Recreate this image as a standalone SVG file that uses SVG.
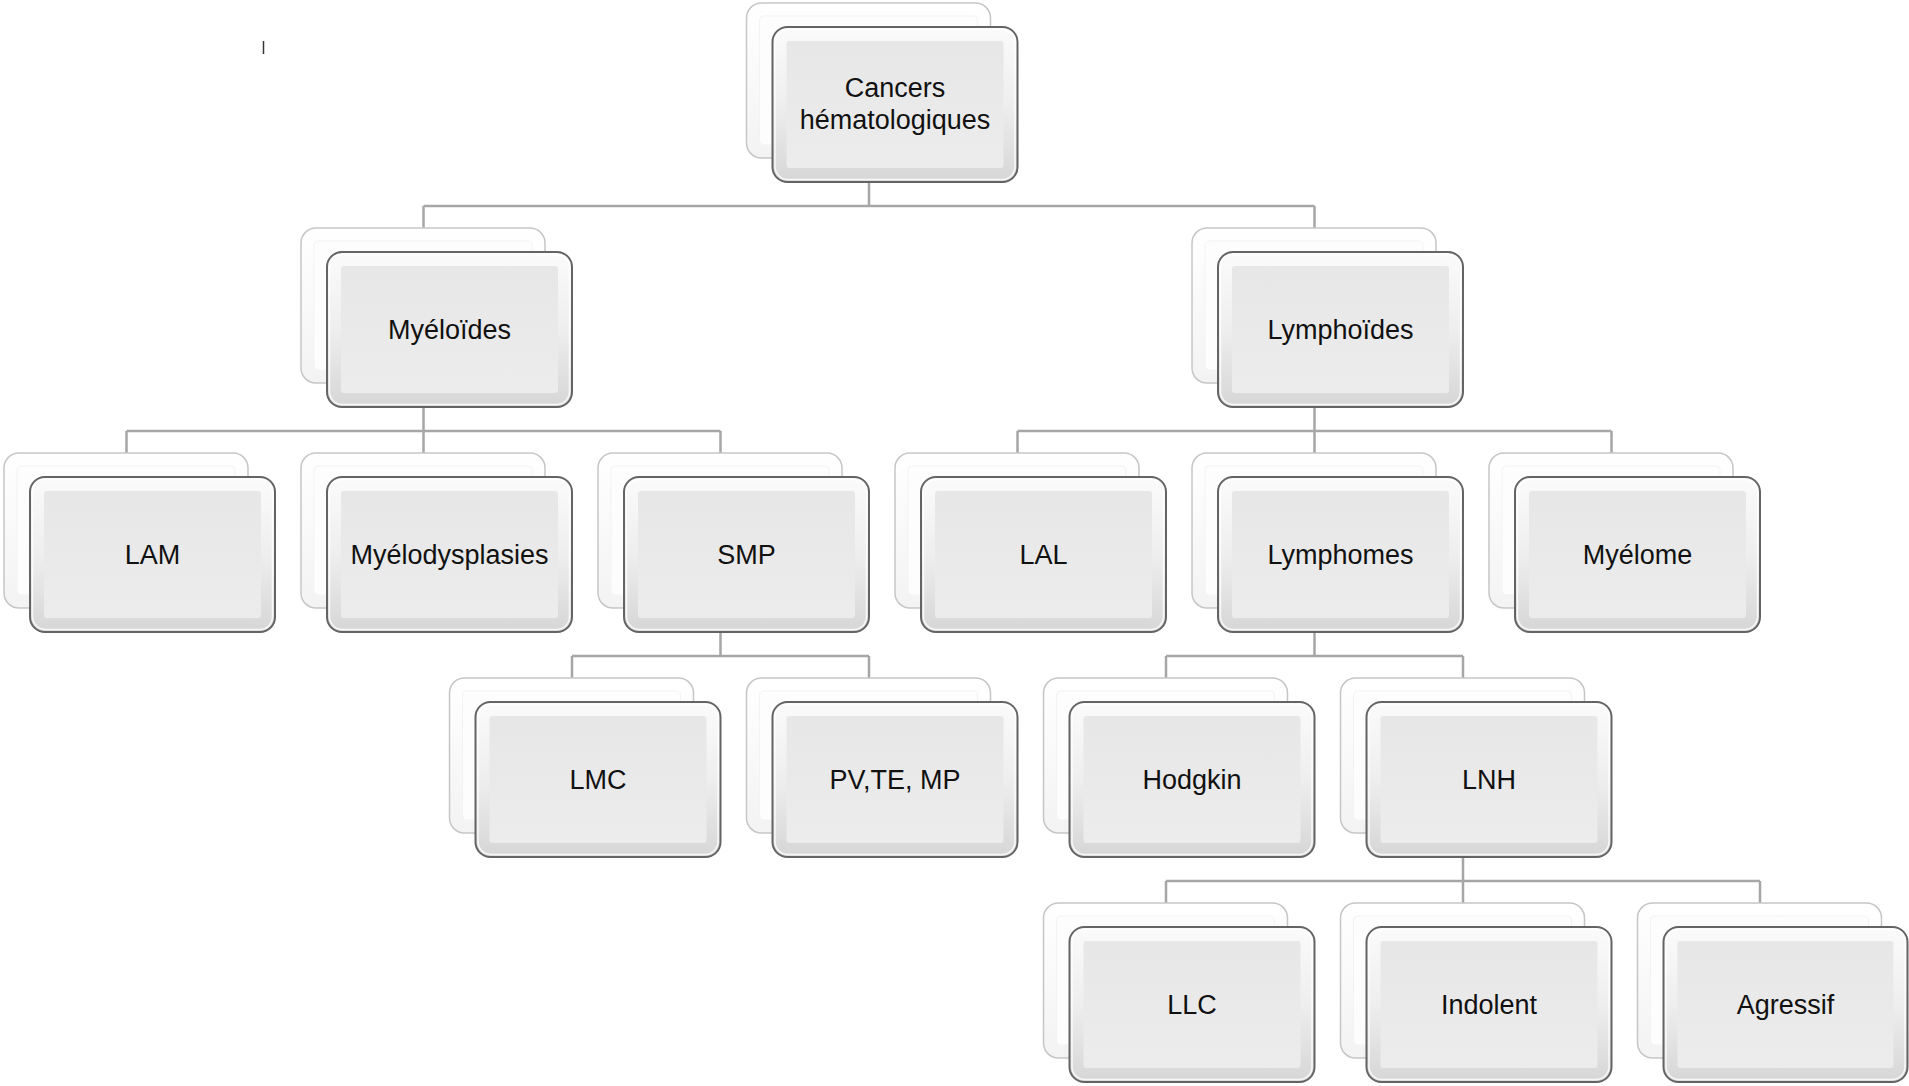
<svg xmlns="http://www.w3.org/2000/svg" width="1909" height="1086" viewBox="0 0 1909 1086">
<defs>
<linearGradient id="frameG" x1="0" y1="0" x2="0" y2="1">
<stop offset="0" stop-color="#fbfbfb"/>
<stop offset="0.5" stop-color="#eeeeee"/>
<stop offset="1" stop-color="#d6d6d6"/>
</linearGradient>
<linearGradient id="backG" x1="0" y1="0" x2="0" y2="1">
<stop offset="0" stop-color="#ffffff"/>
<stop offset="1" stop-color="#f3f3f3"/>
</linearGradient>
<linearGradient id="innerG" x1="0" y1="0" x2="0" y2="1">
<stop offset="0" stop-color="#e7e7e7"/>
<stop offset="1" stop-color="#ececec"/>
</linearGradient>
</defs>
<style>
.back{fill:url(#backG);stroke:#c6c6c6;stroke-width:1.5}
.backin{fill:#fdfdfd;stroke:#f3f3f3;stroke-width:1}
.front{fill:url(#frameG);stroke:#646464;stroke-width:2}
.hl{fill:none;stroke:#ffffff;stroke-width:1.5;stroke-opacity:0.8}
.inner{fill:url(#innerG);stroke:none}
.lbl{font-family:"Liberation Sans",Arial,sans-serif;font-size:27px;fill:#111111;text-anchor:middle}
.conn{fill:none;stroke:#a6a6a6;stroke-width:2.5}
</style>
<rect width="1909" height="1086" fill="#ffffff"/>
<line x1="263.5" y1="41" x2="263.5" y2="54" stroke="#333333" stroke-width="1.5"/>
<g id="connectors">
<path class="conn" d="M869 182V206M423.5 206H1314.5M423.5 206V228M1314.5 206V228"/>
<path class="conn" d="M423.5 407V431M126.5 431H720.5M126.5 431V453M423.5 431V453M720.5 431V453"/>
<path class="conn" d="M1314.5 407V431M1017.5 431H1611.5M1017.5 431V453M1314.5 431V453M1611.5 431V453"/>
<path class="conn" d="M720.5 632V656M572 656H869M572 656V678M869 656V678"/>
<path class="conn" d="M1314.5 632V656M1166 656H1463M1166 656V678M1463 656V678"/>
<path class="conn" d="M1463 857V881M1166 881H1760M1166 881V903M1463 881V903M1760 881V903"/>
</g>
<g id="node-cancers" transform="translate(772.5,27)">
<rect class="back" x="-26" y="-24" width="244" height="155" rx="15"/><rect class="backin" x="-13" y="-11" width="218" height="129" rx="4"/>
<rect class="front" x="0" y="0" width="245" height="155" rx="15"/><rect class="hl" x="2.5" y="2.5" width="240" height="150" rx="13"/><rect class="inner" x="14" y="14" width="217" height="127" rx="3"/>
<text class="lbl" x="122.5" y="70">Cancers</text><text class="lbl" x="122.5" y="102">hématologiques</text>
</g>
<g id="node-myeloides" transform="translate(327,252)">
<rect class="back" x="-26" y="-24" width="244" height="155" rx="15"/><rect class="backin" x="-13" y="-11" width="218" height="129" rx="4"/>
<rect class="front" x="0" y="0" width="245" height="155" rx="15"/><rect class="hl" x="2.5" y="2.5" width="240" height="150" rx="13"/><rect class="inner" x="14" y="14" width="217" height="127" rx="3"/>
<text class="lbl" x="122.5" y="87">Myéloïdes</text>
</g>
<g id="node-lymphoides" transform="translate(1218,252)">
<rect class="back" x="-26" y="-24" width="244" height="155" rx="15"/><rect class="backin" x="-13" y="-11" width="218" height="129" rx="4"/>
<rect class="front" x="0" y="0" width="245" height="155" rx="15"/><rect class="hl" x="2.5" y="2.5" width="240" height="150" rx="13"/><rect class="inner" x="14" y="14" width="217" height="127" rx="3"/>
<text class="lbl" x="122.5" y="87">Lymphoïdes</text>
</g>
<g id="node-lam" transform="translate(30,477)">
<rect class="back" x="-26" y="-24" width="244" height="155" rx="15"/><rect class="backin" x="-13" y="-11" width="218" height="129" rx="4"/>
<rect class="front" x="0" y="0" width="245" height="155" rx="15"/><rect class="hl" x="2.5" y="2.5" width="240" height="150" rx="13"/><rect class="inner" x="14" y="14" width="217" height="127" rx="3"/>
<text class="lbl" x="122.5" y="87">LAM</text>
</g>
<g id="node-myelodysplasies" transform="translate(327,477)">
<rect class="back" x="-26" y="-24" width="244" height="155" rx="15"/><rect class="backin" x="-13" y="-11" width="218" height="129" rx="4"/>
<rect class="front" x="0" y="0" width="245" height="155" rx="15"/><rect class="hl" x="2.5" y="2.5" width="240" height="150" rx="13"/><rect class="inner" x="14" y="14" width="217" height="127" rx="3"/>
<text class="lbl" x="122.5" y="87">Myélodysplasies</text>
</g>
<g id="node-smp" transform="translate(624,477)">
<rect class="back" x="-26" y="-24" width="244" height="155" rx="15"/><rect class="backin" x="-13" y="-11" width="218" height="129" rx="4"/>
<rect class="front" x="0" y="0" width="245" height="155" rx="15"/><rect class="hl" x="2.5" y="2.5" width="240" height="150" rx="13"/><rect class="inner" x="14" y="14" width="217" height="127" rx="3"/>
<text class="lbl" x="122.5" y="87">SMP</text>
</g>
<g id="node-lal" transform="translate(921,477)">
<rect class="back" x="-26" y="-24" width="244" height="155" rx="15"/><rect class="backin" x="-13" y="-11" width="218" height="129" rx="4"/>
<rect class="front" x="0" y="0" width="245" height="155" rx="15"/><rect class="hl" x="2.5" y="2.5" width="240" height="150" rx="13"/><rect class="inner" x="14" y="14" width="217" height="127" rx="3"/>
<text class="lbl" x="122.5" y="87">LAL</text>
</g>
<g id="node-lymphomes" transform="translate(1218,477)">
<rect class="back" x="-26" y="-24" width="244" height="155" rx="15"/><rect class="backin" x="-13" y="-11" width="218" height="129" rx="4"/>
<rect class="front" x="0" y="0" width="245" height="155" rx="15"/><rect class="hl" x="2.5" y="2.5" width="240" height="150" rx="13"/><rect class="inner" x="14" y="14" width="217" height="127" rx="3"/>
<text class="lbl" x="122.5" y="87">Lymphomes</text>
</g>
<g id="node-myelome" transform="translate(1515,477)">
<rect class="back" x="-26" y="-24" width="244" height="155" rx="15"/><rect class="backin" x="-13" y="-11" width="218" height="129" rx="4"/>
<rect class="front" x="0" y="0" width="245" height="155" rx="15"/><rect class="hl" x="2.5" y="2.5" width="240" height="150" rx="13"/><rect class="inner" x="14" y="14" width="217" height="127" rx="3"/>
<text class="lbl" x="122.5" y="87">Myélome</text>
</g>
<g id="node-lmc" transform="translate(475.5,702)">
<rect class="back" x="-26" y="-24" width="244" height="155" rx="15"/><rect class="backin" x="-13" y="-11" width="218" height="129" rx="4"/>
<rect class="front" x="0" y="0" width="245" height="155" rx="15"/><rect class="hl" x="2.5" y="2.5" width="240" height="150" rx="13"/><rect class="inner" x="14" y="14" width="217" height="127" rx="3"/>
<text class="lbl" x="122.5" y="87">LMC</text>
</g>
<g id="node-pv" transform="translate(772.5,702)">
<rect class="back" x="-26" y="-24" width="244" height="155" rx="15"/><rect class="backin" x="-13" y="-11" width="218" height="129" rx="4"/>
<rect class="front" x="0" y="0" width="245" height="155" rx="15"/><rect class="hl" x="2.5" y="2.5" width="240" height="150" rx="13"/><rect class="inner" x="14" y="14" width="217" height="127" rx="3"/>
<text class="lbl" x="122.5" y="87">PV,TE, MP</text>
</g>
<g id="node-hodgkin" transform="translate(1069.5,702)">
<rect class="back" x="-26" y="-24" width="244" height="155" rx="15"/><rect class="backin" x="-13" y="-11" width="218" height="129" rx="4"/>
<rect class="front" x="0" y="0" width="245" height="155" rx="15"/><rect class="hl" x="2.5" y="2.5" width="240" height="150" rx="13"/><rect class="inner" x="14" y="14" width="217" height="127" rx="3"/>
<text class="lbl" x="122.5" y="87">Hodgkin</text>
</g>
<g id="node-lnh" transform="translate(1366.5,702)">
<rect class="back" x="-26" y="-24" width="244" height="155" rx="15"/><rect class="backin" x="-13" y="-11" width="218" height="129" rx="4"/>
<rect class="front" x="0" y="0" width="245" height="155" rx="15"/><rect class="hl" x="2.5" y="2.5" width="240" height="150" rx="13"/><rect class="inner" x="14" y="14" width="217" height="127" rx="3"/>
<text class="lbl" x="122.5" y="87">LNH</text>
</g>
<g id="node-llc" transform="translate(1069.5,927)">
<rect class="back" x="-26" y="-24" width="244" height="155" rx="15"/><rect class="backin" x="-13" y="-11" width="218" height="129" rx="4"/>
<rect class="front" x="0" y="0" width="245" height="155" rx="15"/><rect class="hl" x="2.5" y="2.5" width="240" height="150" rx="13"/><rect class="inner" x="14" y="14" width="217" height="127" rx="3"/>
<text class="lbl" x="122.5" y="87">LLC</text>
</g>
<g id="node-indolent" transform="translate(1366.5,927)">
<rect class="back" x="-26" y="-24" width="244" height="155" rx="15"/><rect class="backin" x="-13" y="-11" width="218" height="129" rx="4"/>
<rect class="front" x="0" y="0" width="245" height="155" rx="15"/><rect class="hl" x="2.5" y="2.5" width="240" height="150" rx="13"/><rect class="inner" x="14" y="14" width="217" height="127" rx="3"/>
<text class="lbl" x="122.5" y="87">Indolent</text>
</g>
<g id="node-agressif" transform="translate(1663.5,927)">
<rect class="back" x="-26" y="-24" width="244" height="155" rx="15"/><rect class="backin" x="-13" y="-11" width="218" height="129" rx="4"/>
<rect class="front" x="0" y="0" width="244" height="155" rx="15"/><rect class="hl" x="2.5" y="2.5" width="239" height="150" rx="13"/><rect class="inner" x="14" y="14" width="216" height="127" rx="3"/>
<text class="lbl" x="122" y="87">Agressif</text>
</g>
</svg>
